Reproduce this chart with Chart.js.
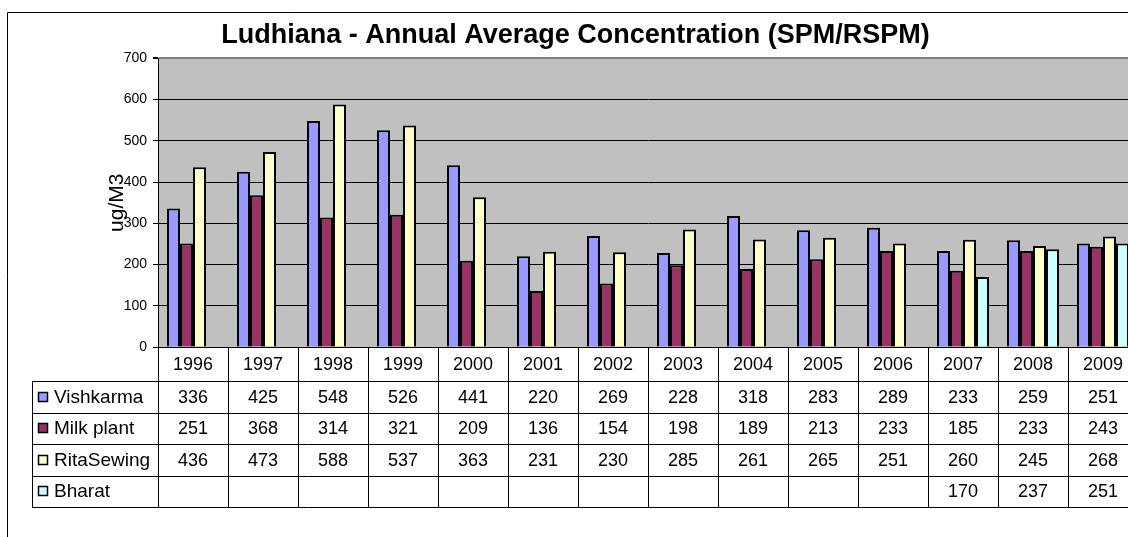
<!DOCTYPE html>
<html>
<head>
<meta charset="utf-8">
<script src="https://cdn.jsdelivr.net/npm/chart.js@4.4.0/dist/chart.umd.min.js"></script>
<style>
  html, body { margin: 0; padding: 0; overflow: hidden; background: #fff; }
  #wrap { width: 1128px; height: 537px; overflow: hidden; }
</style>
</head>
<body>
<div id="wrap"><canvas id="chart" width="1138" height="537"></canvas></div>
<script>
const years = ['1996', '1997', '1998', '1999', '2000', '2001', '2002', '2003', '2004', '2005', '2006', '2007', '2008', '2009'];
const vishkarma = [336, 425, 548, 526, 441, 220, 269, 228, 318, 283, 289, 233, 259, 251];
const milkPlant = [251, 368, 314, 321, 209, 136, 154, 198, 189, 213, 233, 185, 233, 243];
const ritaSewing = [436, 473, 588, 537, 363, 231, 230, 285, 261, 265, 251, 260, 245, 268];
const bharat = [null, null, null, null, null, null, null, null, null, null, null, 170, 237, 251];
const seriesNames = ['Vishkarma', 'Milk plant', 'RitaSewing', 'Bharat'];
const seriesColors = ['#9999FF', '#993366', '#FFFFCC', '#CCFFFF'];
const yTicks = [0, 100, 200, 300, 400, 500, 600, 700];

const FONT = 'Arial, "Liberation Sans", sans-serif';
const seriesData = [vishkarma, milkPlant, ritaSewing, bharat];

// plot background + data table under the plot (Excel style)
const dataTable = {
  id: 'dataTable',
  beforeDraw(chart) {
    const { ctx, chartArea: a } = chart;
    ctx.save();
    ctx.fillStyle = '#fff';
    ctx.fillRect(0, 0, chart.width, chart.height);
    ctx.fillStyle = '#C0C0C0';
    ctx.fillRect(a.left, a.top, a.right - a.left, a.bottom - a.top);
    ctx.restore();
  },
  afterDraw(chart) {
    const { ctx, chartArea: a } = chart;
    const x = chart.scales.x;
    const step = x.getPixelForValue(1) - x.getPixelForValue(0);
    const headTop = a.bottom;
    const headBot = a.bottom + 34;
    const rowH = 31.5;
    const tableBot = headBot + rowH * seriesData.length;
    const legendLeft = 32;

    ctx.save();
    ctx.strokeStyle = '#000';
    ctx.lineWidth = 1;
    ctx.beginPath();
    // chart object border
    ctx.rect(7.5, 12.5, 3000, 3000);
    for (let i = 0; i <= years.length; i++) {
      const px = Math.round(x.getPixelForValue(i) - step / 2) + 0.5;
      ctx.moveTo(px, headTop);
      ctx.lineTo(px, tableBot);
    }
    ctx.moveTo(legendLeft + 0.5, headBot);
    ctx.lineTo(legendLeft + 0.5, tableBot);
    for (let r = 0; r <= seriesData.length; r++) {
      const py = Math.round(headBot + r * rowH) + 0.5;
      ctx.moveTo(legendLeft, py);
      ctx.lineTo(a.right, py);
    }
    ctx.stroke();

    ctx.textBaseline = 'middle';
    seriesData.forEach((vals, d) => {
      const cy = headBot + d * rowH + rowH / 2;
      ctx.font = '18px ' + FONT;
      ctx.textAlign = 'center';
      ctx.fillStyle = '#000';
      vals.forEach((v, i) => {
        if (v !== null) ctx.fillText(String(v), x.getPixelForValue(i), cy + 1);
      });
      // legend key
      ctx.fillStyle = seriesColors[d];
      ctx.fillRect(38, Math.round(cy) - 5, 10, 10);
      ctx.lineWidth = 1.5;
      ctx.strokeRect(38.5, Math.round(cy) - 4.5, 9, 9);
      ctx.fillStyle = '#000';
      ctx.font = '19px ' + FONT;
      ctx.textAlign = 'left';
      ctx.fillText(seriesNames[d], 54, cy + 1);
    });
    ctx.restore();
  }
};

new Chart(document.getElementById('chart'), {
  type: 'bar',
  data: {
    labels: years,
    datasets: seriesData.map((vals, d) => ({
      label: seriesNames[d],
      data: vals,
      backgroundColor: seriesColors[d],
      borderColor: '#000',
      borderWidth: 2,
      categoryPercentage: 0.743,
      barPercentage: 1.0
    }))
  },
  options: {
    responsive: false,
    animation: false,
    events: [],
    layout: { padding: { left: 13, right: 0, top: 0, bottom: 0 } },
    plugins: {
      legend: { display: false },
      tooltip: { enabled: false },
      title: {
        display: true,
        text: 'Ludhiana - Annual Average Concentration (SPM/RSPM)',
        color: '#000',
        font: { family: FONT, size: 27, weight: 'bold' },
        padding: { top: 19, bottom: 7 }
      }
    },
    scales: {
      x: {
        grid: { display: false, drawTicks: false },
        border: { display: true, color: '#000', width: 1 },
        ticks: { color: '#000', font: { family: FONT, size: 18 }, padding: 7, maxRotation: 0, autoSkip: false },
        afterFit(scale) { scale.height = 190; }
      },
      y: {
        min: 0,
        max: 700,
        afterBuildTicks(scale) { scale.ticks = yTicks.map(v => ({ value: v })); },
        ticks: { color: '#000', font: { family: FONT, size: 14 }, padding: 6 },
        grid: {
          color: c => (c.tick && c.tick.value === 700 ? '#808080' : '#000'),
          lineWidth: c => (c.tick && c.tick.value === 700 ? 2 : 1),
          tickColor: '#000',
          tickLength: 5
        },
        border: { color: '#000', width: 1 },
        title: {
          display: true,
          text: 'ug/M3',
          color: '#000',
          font: { family: FONT, size: 21 },
          padding: { top: 92, bottom: 0 }
        },
        afterFit(scale) { scale.width = 145; }
      }
    }
  },
  plugins: [dataTable]
});
</script>
</body>
</html>
